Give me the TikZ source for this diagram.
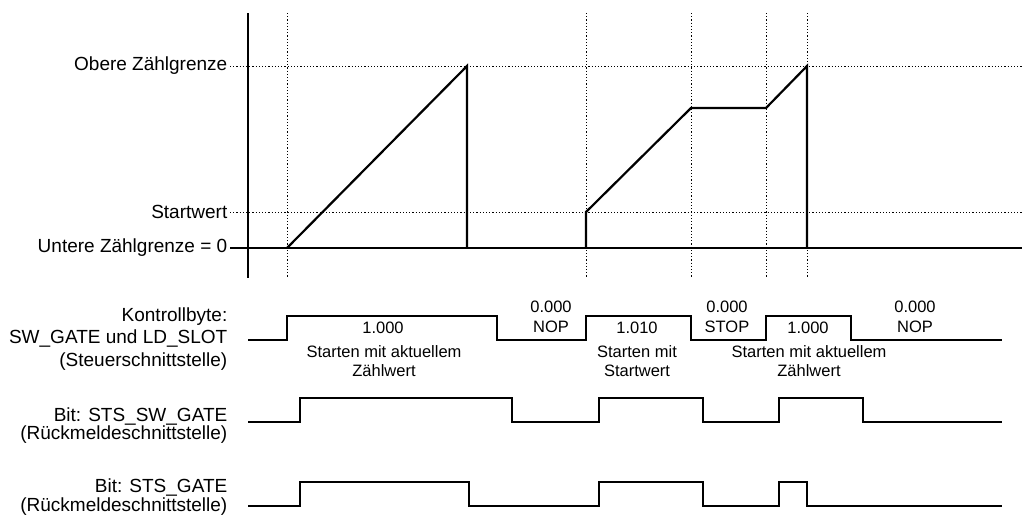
\documentclass[tikz,border=0pt]{standalone}
\usepackage{fontspec}
\setmainfont{Liberation Sans}
\usetikzlibrary{calc}

\begin{document}
\begin{tikzpicture}[x=1pt, y=-1pt,
		lbl/.style = {anchor=east, align=right, inner xsep=2.5pt, inner ysep=0pt, font=\fontsize{19}{22.5}\selectfont},
		txt/.style = {inner sep=0pt, align=center, font=\fontsize{16.5}{19.5}\selectfont},
		sig/.style = {line width=2.2pt},
		guide/.style = {line width=1pt, dash pattern=on 1.2pt off 2pt}]
		\useasboundingbox (0,0) rectangle (1024,520);
		\coordinate (rgt) at (1022,0);
		\node[lbl] (ober) at (230,66) {Obere Zählgrenze};
		\node[lbl] (start) at (230,212) {Startwert};
		\node[lbl] (unt) at (230,248) {Untere Zählgrenze = 0};
		\node[lbl] (kb) at (230,339) {Kontrollbyte:\\SW\_GATE und LD\_SLOT\\(Steuerschnittstelle)};
		\node[lbl, font=\fontsize{19}{18}\selectfont] (sw) at (230,426) {Bit: STS\_SW\_GATE\\(Rückmeldeschnittstelle)};
		\node[lbl, font=\fontsize{19}{18.5}\selectfont] (gt) at (230,497) {Bit: STS\_GATE\\(Rückmeldeschnittstelle)};
		\foreach \x in {287,586,691,766,807}
			\draw[guide] (\x,13) -- (\x,278);
		\draw[guide] (ober.east) -- (ober.east -| rgt)
			(start.east) -- (start.east -| rgt);
		\draw[sig] (248,13) -- (248,278);
		\draw[sig] (unt.east) -- (unt.east -| rgt);
		\draw[sig] (287,248) -- (467,66) -- (467,248);
		\draw[sig] (586,248) -- (586,212) -- (691,108) -- (766,108) -- (807,66) -- (807,248);
		\draw[sig] (248,340) -| (287,316) -| (497,340) -| (586,316) -| (691,340) -| (766,316) -| (851,340) -- (1002,340);
		\draw[sig] (248,422) -| (300,398) -| (512,422) -| (599,398) -| (703,422) -| (779,398) -| (863,422) -- (1002,422);
		\draw[sig] (248,506) -| (300,482) -| (469,506) -| (599,482) -| (703,506) -| (779,482) -| (807,506) -- (1002,506);
		\node[txt] (c1) at (383,328) {1.000};
		\node[txt] (d1) at (384,361) {Starten mit aktuellem\\Zählwert};
		\node[txt] (n1) at (551,317) {0.000\\NOP};
		\node[txt] (c2) at (637,328) {1.010};
		\node[txt] (d2) at (637,361) {Starten mit\\Startwert};
		\node[txt] (s1) at (727,317) {0.000\\STOP};
		\node[txt] (c3) at (808,328) {1.000};
		\node[txt] (d3) at (809,361) {Starten mit aktuellem\\Zählwert};
		\node[txt] (n2) at (915,317) {0.000\\NOP};
	\end{tikzpicture}
\end{document}
